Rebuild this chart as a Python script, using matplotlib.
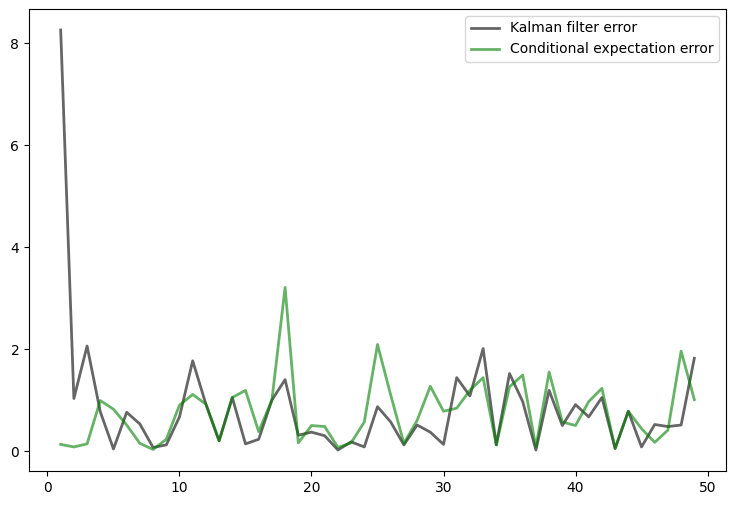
import matplotlib
matplotlib.use("Agg")
import matplotlib.pyplot as plt

steps = list(range(1, 50))

kalman_error = [8.26, 1.03, 2.06, 0.77, 0.04, 0.76, 0.53, 0.07, 0.12, 0.67,
                1.77, 0.92, 0.20, 1.05, 0.14, 0.23, 1.00, 1.40, 0.31, 0.37,
                0.30, 0.02, 0.18, 0.08, 0.87, 0.57, 0.12, 0.51, 0.37, 0.13,
                1.44, 1.08, 2.01, 0.12, 1.52, 0.97, 0.02, 1.19, 0.50, 0.91,
                0.67, 1.05, 0.05, 0.78, 0.08, 0.52, 0.48, 0.51, 1.82]

cond_exp_error = [0.13, 0.08, 0.14, 0.99, 0.82, 0.51, 0.15, 0.03, 0.23, 0.90,
                  1.11, 0.92, 0.20, 1.05, 1.19, 0.38, 1.00, 3.21, 0.16, 0.50,
                  0.48, 0.07, 0.16, 0.57, 2.09, 1.10, 0.15, 0.60, 1.27, 0.78,
                  0.84, 1.19, 1.44, 0.12, 1.26, 1.49, 0.08, 1.55, 0.57, 0.50,
                  0.97, 1.23, 0.05, 0.78, 0.44, 0.17, 0.41, 1.96, 1.01]

fig = plt.figure(figsize=(7.36, 5.05), dpi=100)
ax = fig.add_axes([29 / 736, 1 - 471 / 505, (726 - 29) / 736, (471 - 9) / 505])

ax.plot(steps, kalman_error, color='k', lw=2, alpha=0.6, label='Kalman filter error')
ax.plot(steps, cond_exp_error, color='g', lw=2, alpha=0.6, label='Conditional expectation error')
ax.legend(loc='upper right')

fig.savefig('out.png', dpi=100)
